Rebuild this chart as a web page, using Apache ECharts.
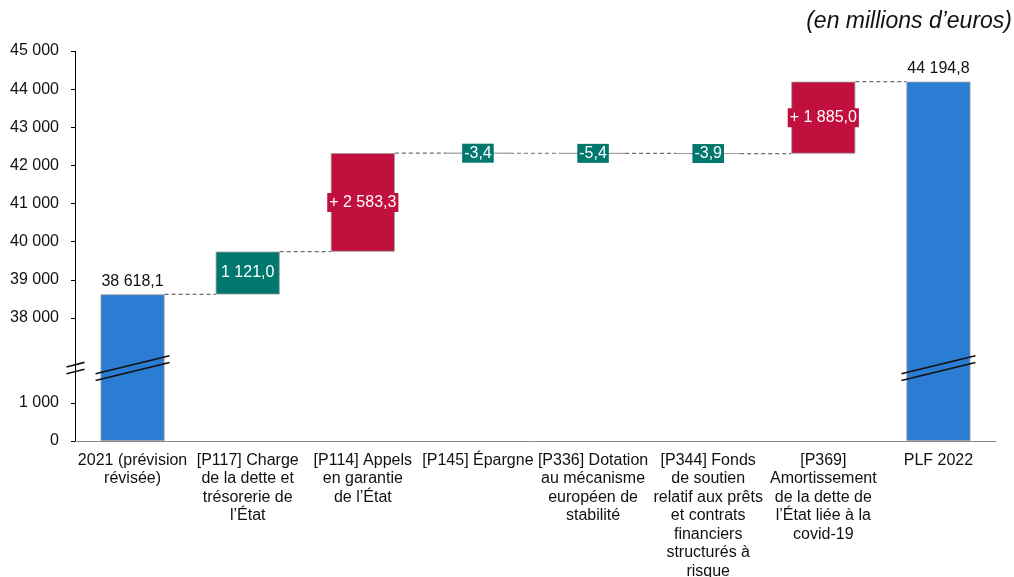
<!DOCTYPE html>
<html><head><meta charset="utf-8">
<script src="https://cdn.jsdelivr.net/npm/echarts@6/dist/echarts.min.js"></script>
<style>html,body{margin:0;padding:0;background:#fff}#c{width:1014px;height:577px}</style>
</head><body><div id="c"></div>
<script>
const categories = [
  '2021 (prévision\nrévisée)',
  '[P117] Charge\nde la dette et\ntrésorerie de\nl’État',
  '[P114] Appels\nen garantie\nde l’État',
  '[P145] Épargne',
  '[P336] Dotation\nau mécanisme\neuropéen de\nstabilité',
  '[P344] Fonds\nde soutien\nrelatif aux prêts\net contrats\nfinanciers\nstructurés à\nrisque',
  '[P369]\nAmortissement\nde la dette de\nl’État liée à la\ncovid-19',
  'PLF 2022'
];
const startValue = 38618.1;
const deltas = [1121.0, 2583.3, -3.4, -5.4, -3.9, 1885.0];
const endValue = 44194.8;
const deltaLabels = ['1 121,0', '+ 2 583,3', '-3,4', '-5,4', '-3,9', '+ 1 885,0'];
const yTicks = [0, 1000, 38000, 39000, 40000, 41000, 42000, 43000, 44000, 45000];
const barColors = ['#2B7CD3', '#00786E', '#C10F3E', '#00786E', '#00786E', '#00786E', '#C10F3E', '#2B7CD3'];
const breakRange = { start: 1500, end: 37100, gap: 825 };

function fmtFr(v, dec) {
  const s = Math.abs(v).toFixed(dec);
  const parts = s.split('.');
  const intp = parts[0].replace(/\B(?=(\d{3})+(?!\d))/g, ' ');
  return (v < 0 ? '-' : '') + intp + (dec ? ',' + parts[1] : '');
}

// build waterfall
const base = [0], heights = [startValue], levels = [startValue];
let running = startValue;
deltas.forEach(d => {
  if (d >= 0) { base.push(running); heights.push(d); }
  else { base.push(running + d); heights.push(-d); }
  running += d;
  levels.push(running);
});
base.push(0); heights.push(endValue);

const FONT = 'Liberation Sans, Arial, sans-serif';
const TXT = '#111';
const BAR_W = 64;

const valData = heights.map((h, i) => {
  const isEnd = (i === 0 || i === heights.length - 1);
  return {
    value: h,
    itemStyle: { color: barColors[i] },
    label: isEnd ? {
      show: true, position: 'top', distance: 5, color: TXT, fontSize: 16,
      formatter: fmtFr(h, 1)
    } : {
      show: true, position: 'inside', color: '#fff', fontSize: 16,
      backgroundColor: barColors[i], padding: [2, 2, 1, 2],
      formatter: deltaLabels[i - 1]
    }
  };
});

const connData = levels.map((lv, i) => [i, lv]).filter(d => d[0] < categories.length - 1);
const breakMid = (breakRange.start + breakRange.end) / 2;

const chart = echarts.init(document.getElementById('c'), null, { renderer: 'canvas' });
chart.setOption({
  animation: false,
  textStyle: { fontFamily: FONT },
  title: {
    text: '(en millions d’euros)', right: 2, top: 10, padding: 0,
    textStyle: { fontFamily: FONT, fontStyle: 'italic', fontWeight: 'normal', fontSize: 23, color: TXT }
  },
  grid: { left: 75, right: 18, top: 51, bottom: 136, containLabel: false, outerBoundsMode: 'none' },
  xAxis: {
    type: 'category', data: categories,
    axisTick: { show: false },
    axisLine: { lineStyle: { color: '#888', width: 1 } },
    axisLabel: { interval: 0, fontSize: 16, lineHeight: 18.5, margin: 10, color: TXT, fontFamily: FONT }
  },
  yAxis: {
    type: 'value', min: 0, max: 45000,
    breaks: [{ start: breakRange.start, end: breakRange.end, gap: breakRange.gap }],
    breakArea: { show: false },
    axisLine: { show: false },
    axisTick: { show: true, length: 4, customValues: yTicks, lineStyle: { color: '#000' } },
    axisLabel: {
      customValues: yTicks, margin: 16, fontSize: 16, color: TXT, fontFamily: FONT,
      formatter: v => fmtFr(v, 0)
    },
    splitLine: { show: false }
  },
  series: [
    {
      type: 'bar', stack: 'w', silent: true, barWidth: BAR_W,
      itemStyle: { color: 'rgba(0,0,0,0)' }, data: base
    },
    {
      type: 'bar', stack: 'w', barWidth: BAR_W,
      itemStyle: { borderColor: '#9a9a9a', borderWidth: 0.8 },
      data: valData, z: 3
    },
    {
      type: 'custom', silent: true, z: 2,
      data: connData,
      renderItem: function (params, api) {
        const i = api.value(0), lv = api.value(1);
        const p1 = api.coord([i, lv]), p2 = api.coord([i + 1, lv]);
        return {
          type: 'line',
          shape: { x1: p1[0] + BAR_W / 2, y1: p1[1], x2: p2[0] - BAR_W / 2, y2: p2[1] },
          style: { stroke: '#6e6e6e', lineWidth: 1.2, lineDash: [4, 3] }
        };
      }
    },
    {
      type: 'custom', silent: true, z: 10, clip: false,
      data: [[0, breakMid], [categories.length - 1, breakMid]],
      renderItem: function (params, api) {
        const i = api.value(0);
        const ys = api.coord([i, breakRange.start])[1];
        const ye = api.coord([i, breakRange.end])[1];
        const y0 = (ys + ye) / 2;
        const x = api.coord([i, 0])[0];
        const children = [];
        [-3.4, 3.4].forEach(off => {
          children.push({
            type: 'line',
            shape: { x1: x - 37, y1: y0 + off + 9, x2: x + 37, y2: y0 + off - 9 },
            style: { stroke: '#111', lineWidth: 1.6 }
          });
        });
        if (i === 0) {
          const cs = params.coordSys;
          const ax = Math.round(cs.x) + 0.5;
          children.push({
            type: 'line',
            shape: { x1: ax, y1: cs.y, x2: ax, y2: cs.y + cs.height },
            style: { stroke: '#000', lineWidth: 1 }
          });
          [-3.4, 3.4].forEach(off => {
            children.push({
              type: 'line',
              shape: { x1: ax - 9, y1: y0 + off + 2.3, x2: ax + 9, y2: y0 + off - 2.3 },
              style: { stroke: '#111', lineWidth: 1.6 }
            });
          });
        }
        return { type: 'group', children };
      }
    }
  ]
});
</script>
</body></html>
